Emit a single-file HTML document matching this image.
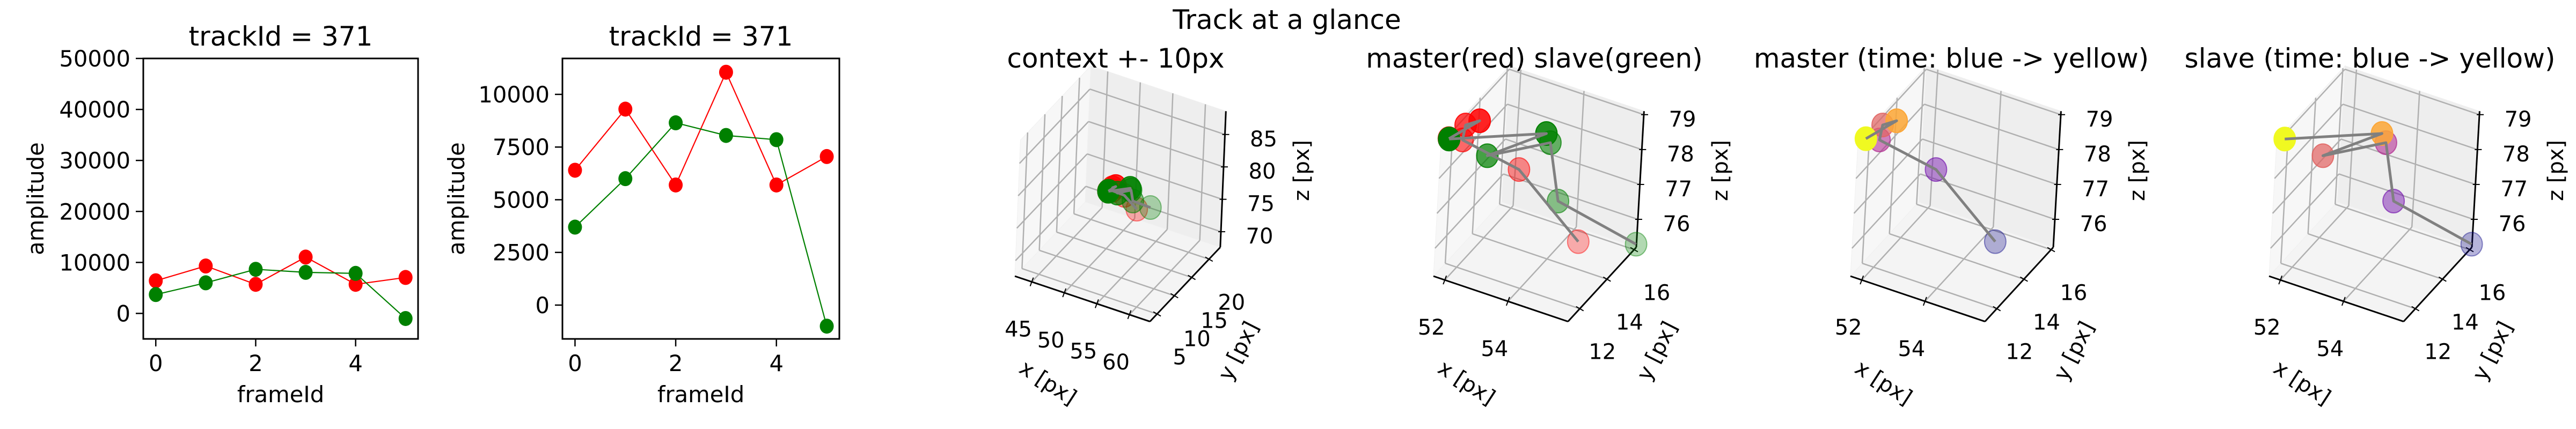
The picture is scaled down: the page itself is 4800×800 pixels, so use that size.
<!DOCTYPE html>
<html><head><meta charset="utf-8">
<style>
html,body{margin:0;padding:0;background:#fff;}
svg{display:block;font-family:"DejaVu Sans","Liberation Sans",sans-serif;}
</style></head>
<body>
<svg id="fig" width="4800" height="800" viewBox="0 0 4800 800" xmlns="http://www.w3.org/2000/svg">
<rect width="4800" height="800" fill="#fff"/>
<text x="2398" y="54" font-size="50" text-anchor="middle">Track at a glance</text>
</svg>
<script>
// ---- 2D amplitude data ----
const frames = [0, 1, 2, 3, 4, 5];
const masterAmp = [6400, 9300, 5700, 11050, 5700, 7050];
const slaveAmp = [3700, 6000, 8650, 8050, 7850, -1000];
const xTicks2d = [0, 2, 4];
const yTicksA = [0, 10000, 20000, 30000, 40000, 50000];
const yTicksB = [0, 2500, 5000, 7500, 10000];
// ---- 3D track data ----
const masterX = [55.1, 53.12, 51.71, 51.78, 52.01, 51.68];
const masterY = [13.6, 13.63, 12.63, 12.63, 13.13, 11.63];
const masterZ = [76.2, 77.65, 78.49, 78.94, 78.92, 78.94];
const slaveX = [55.9, 54.19, 53.85, 52.31, 53.71, 51.7];
const slaveY = [16.13, 14.13, 14.13, 13.13, 14.13, 11.6];
const slaveZ = [75.3, 76.86, 78.43, 78.01, 78.65, 78.95];
const timeAlpha = [0.3, 0.44, 0.58, 0.72, 0.86, 1.0];
const plasma = ['#0d0887', '#6a00a8', '#b12a90', '#e16462', '#fca636', '#f0f921'];
const ctxXTicks = [45, 50, 55, 60], ctxYTicks = [5, 10, 15, 20], ctxZTicks = [70, 75, 80, 85];
const zmXTicks = [52, 54], zmYTicks = [12, 14, 16], zmZTicks = [76, 77, 78, 79];

const NS = 'http://www.w3.org/2000/svg';
const svg = document.getElementById('fig');
function mk(tag, attrs, parent) {
  const e = document.createElementNS(NS, tag);
  for (const k in attrs) e.setAttribute(k, attrs[k]);
  (parent || svg).appendChild(e);
  return e;
}

function panel2d(name, L, R, T, B, xlim, ylim, yTicks, ylabX, titleX) {
  const g = mk('g', {});
  
  
  const sx = v => L + (v - xlim[0]) / (xlim[1] - xlim[0]) * (R - L);
  const sy = v => B - (v - ylim[0]) / (ylim[1] - ylim[0]) * (B - T);
  const t = mk('text', {x: titleX, y: 85, 'font-size': 50, 'text-anchor': 'middle'}, g);
  t.textContent = 'trackId = 371';
  
  
  yTicks.forEach(v => {
    const y = sy(v);
    mk('line', {x1: L - 14, x2: L, y1: y, y2: y, stroke: '#000', 'stroke-width': 2.5}, g);
    const tx = mk('text', {x: L - 24, y: y + 15, 'font-size': 41.7, 'text-anchor': 'end'}, g);
    tx.textContent = v;
    
    
  });
  xTicks2d.forEach(v => {
    const x = sx(v);
    mk('line', {x1: x, x2: x, y1: B, y2: B + 14, stroke: '#000', 'stroke-width': 2.5}, g);
    const tx = mk('text', {x: x, y: 692, 'font-size': 41.7, 'text-anchor': 'middle'}, g);
    tx.textContent = v;
    
    
  });
  const xl = mk('text', {x: (L + R) / 2, y: 750, 'font-size': 41.7, 'text-anchor': 'middle'}, g);
  xl.textContent = 'frameId';
  
  
  const yl = mk('text', {x: ylabX, y: (T + B) / 2, 'font-size': 41.7, 'text-anchor': 'middle', transform: `rotate(-90 ${ylabX} ${(T + B) / 2})`, dy: 14}, g);
  yl.textContent = 'amplitude';
  
  
  [[masterAmp, '#ff0000', 'master'], [slaveAmp, '#008000', 'slave']].forEach(([arr, col, nm]) => {
    const pts = arr.map((v, i) => sx(frames[i]) + ',' + sy(v)).join(' ');
    const pl = mk('polyline', {points: pts, fill: 'none', stroke: col, 'stroke-width': 2.2}, g);
    
    
    arr.forEach((v, i) => {
      const c = mk('ellipse', {cx: sx(frames[i]), cy: sy(v), rx: 13, ry: 14, fill: col}, g);
      
      
    });
  });
  const fr = mk('rect', {x: L, y: T, width: R - L, height: B - T, fill: 'none', stroke: '#000', 'stroke-width': 3}, g);
  
  
}
panel2d('amplitude-panel-full', 267, 779, 109, 632, [-0.25, 5.25], [-5000, 50000], yTicksA, 67, 523);
panel2d('amplitude-panel-zoom', 1048, 1564, 109, 632, [-0.25, 5.25], [-1605, 11705], yTicksB, 851, 1306);

function panel3d(name, title, O, xr, yr, zr, Ex, Ey, Ez, xt, yt, zt, series) {
  const g = mk('g', {});
  
  
  const P = (x, y, z) => {
    const a = (x - xr[0]) / (xr[1] - xr[0]), b = (y - yr[0]) / (yr[1] - yr[0]), c = (z - zr[0]) / (zr[1] - zr[0]);
    return [O[0] + a * Ex[0] + b * Ey[0] + c * Ez[0], O[1] + a * Ex[1] + b * Ey[1] + c * Ez[1]];
  };
  const poly = (pts, fill, nm) => {
    const p = mk('polygon', {points: pts.map(q => q.join(',')).join(' '), fill: fill, stroke: '#f0f0f0', 'stroke-width': 1}, g);
    
    
  };
  const [x0, x1] = xr, [y0, y1] = yr, [z0, z1] = zr;
  poly([P(x0, y0, z0), P(x1, y0, z0), P(x1, y1, z0), P(x0, y1, z0)], '#f4f4f4', 'floor-pane');
  poly([P(x0, y0, z0), P(x0, y1, z0), P(x0, y1, z1), P(x0, y0, z1)], '#f7f7f7', 'left-pane');
  poly([P(x0, y1, z0), P(x1, y1, z0), P(x1, y1, z1), P(x0, y1, z1)], '#eeeeee', 'back-pane');
  const gl = (a, b) => mk('line', {x1: a[0], y1: a[1], x2: b[0], y2: b[1], stroke: '#b0b0b0', 'stroke-width': 2.5}, g);
  xt.forEach(v => { gl(P(v, y0, z0), P(v, y1, z0)); gl(P(v, y1, z0), P(v, y1, z1)); });
  yt.forEach(v => { gl(P(x0, v, z0), P(x1, v, z0)); gl(P(x0, v, z0), P(x0, v, z1)); });
  zt.forEach(v => { gl(P(x0, y0, v), P(x0, y1, v)); gl(P(x0, y1, v), P(x1, y1, v)); });
  const al = (a, b, nm) => {
    const l = mk('line', {x1: a[0], y1: a[1], x2: b[0], y2: b[1], stroke: '#000', 'stroke-width': 3}, g);
    
    
  };
  al(P(x0, y0, z0), P(x1, y0, z0), 'x-axis-line');
  al(P(x1, y0, z0), P(x1, y1, z0), 'y-axis-line');
  al(P(x1, y1, z0), P(x1, y1, z1), 'z-axis-line');
  const lab = (txt, p, nm, rot) => {
    const t = mk('text', {x: p[0], y: p[1], 'font-size': 40, 'text-anchor': 'middle', dy: 14}, g);
    if (rot) t.setAttribute('transform', `rotate(${rot} ${p[0]} ${p[1]})`);
    t.textContent = txt;
    
    
  };
  xt.forEach(v => { const p = P(v, y0, z0); mk('line', {x1: p[0] - 3, y1: p[1] + 8, x2: p[0] + 3, y2: p[1] - 8, stroke: '#000', 'stroke-width': 2}, g); lab(v, [p[0] - 25, p[1] + 88], 'x-tick-label'); });
  yt.forEach(v => { const p = P(x1, v, z0); mk('line', {x1: p[0] - 7, y1: p[1] - 4, x2: p[0] + 7, y2: p[1] + 4, stroke: '#000', 'stroke-width': 2}, g); lab(v, [p[0] + 42, p[1] + 80], 'y-tick-label'); });
  zt.forEach(v => { const p = P(x1, y1, v); mk('line', {x1: p[0] - 5, y1: p[1], x2: p[0] + 8, y2: p[1], stroke: '#000', 'stroke-width': 2}, g); lab(v, [p[0] + 72, p[1] + 8], 'z-tick-label'); });
  lab('x [px]', [O[0] + 62, O[1] + 198], 'x-axis-title', 33);
  lab('y [px]', [O[0] + 416, O[1] + 139], 'y-axis-title', -63);
  lab('z [px]', [O[0] + 534, O[1] - 197], 'z-axis-title', -90);
  const t = mk('text', {x: O[0] + 188, y: 126, 'font-size': 50, 'text-anchor': 'middle'}, g);
  t.textContent = title;
  
  
  series.forEach(s => {
    s.xs.forEach((xv, i) => {
      const p = P(xv, s.ys[i], s.zs[i]);
      const col = s.colors ? s.colors[i] : s.color;
      const c = mk('ellipse', {cx: p[0], cy: p[1], rx: 20, ry: 22, fill: col, 'fill-opacity': timeAlpha[i], stroke: col, 'stroke-opacity': Math.min(1, timeAlpha[i] + 0.15), 'stroke-width': 2}, g);
      
      
    });
  });
  series.forEach(s => {
    const pts = s.xs.map((xv, i) => P(xv, s.ys[i], s.zs[i]).join(',')).join(' ');
    const l = mk('polyline', {points: pts, fill: 'none', stroke: '#808080', 'stroke-width': 5, 'stroke-linejoin': 'round'}, g);
    
    
  });
}
const mS = {name: 'master', xs: masterX, ys: masterY, zs: masterZ, color: '#ff0000'};
const sS = {name: 'slave', xs: slaveX, ys: slaveY, zs: slaveZ, color: '#008000'};
const EX = [250.7, 84.6], EY = [127.3, -138.5], EZ = [14.4, -253.8];
const zr = [51.64, 55.9], zy = [11.13, 16.16], zz = [75.2, 79.1];
panel3d('context-3d-panel', 'context +- 10px', [1891, 515], [42.4, 63.15], [2.93, 23.26], [67.6, 88.6], [251.7, 84.6], [131.1, -138.5], [10.5, -253.8], ctxXTicks, ctxYTicks, ctxZTicks, [mS, sS]);
panel3d('master-slave-3d-panel', 'master(red) slave(green)', [2671, 515], zr, zy, zz, EX, EY, EZ, zmXTicks, zmYTicks, zmZTicks, [mS, sS]);
panel3d('master-time-3d-panel', 'master (time: blue -> yellow)', [3448, 515], zr, zy, zz, EX, EY, EZ, zmXTicks, zmYTicks, zmZTicks, [Object.assign({}, mS, {colors: plasma})]);
panel3d('slave-time-3d-panel', 'slave (time: blue -> yellow)', [4228, 515], zr, zy, zz, EX, EY, EZ, zmXTicks, zmYTicks, zmZTicks, [Object.assign({}, sS, {colors: plasma})]);
</script>
</body></html>
